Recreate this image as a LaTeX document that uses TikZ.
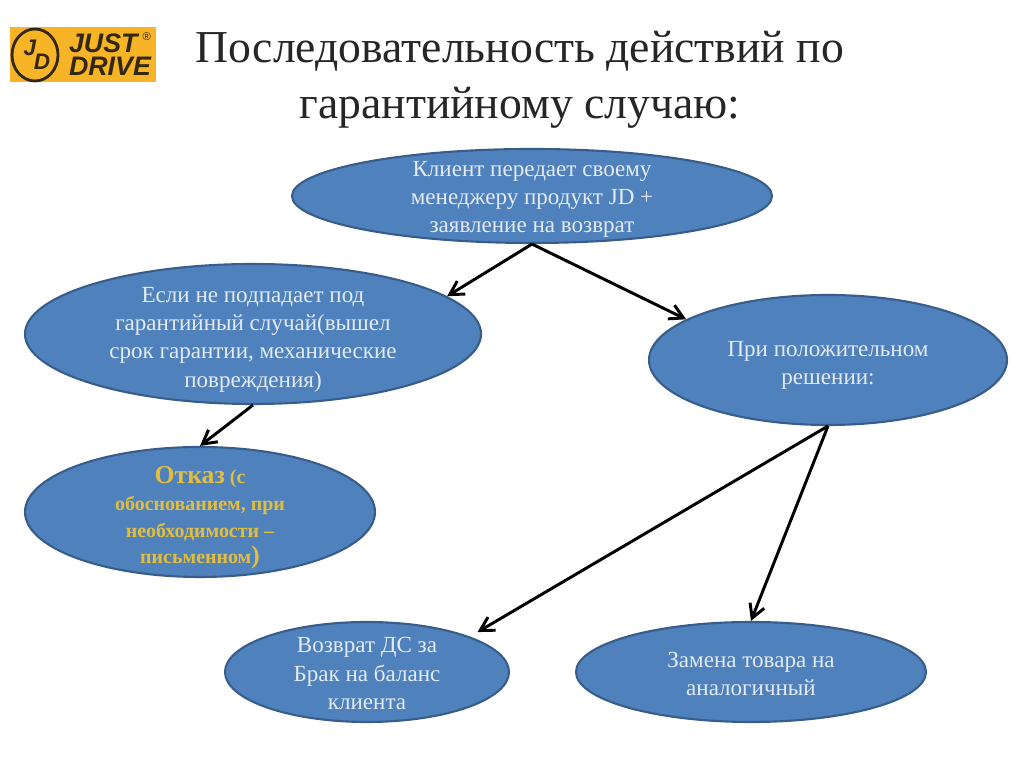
\documentclass[tikz,border=0pt]{standalone}
\usepackage{fontspec}
\setmainfont{Liberation Serif}
\newfontfamily\logofont{Liberation Sans}
\usepackage{xcolor}
\usetikzlibrary{arrows.meta, shapes.geometric}

\definecolor{ovalfill}{HTML}{4F81BD}
\definecolor{ovaledge}{HTML}{385D8A}
\definecolor{ovaltext}{HTML}{E4EAF2}
\definecolor{refusal}{HTML}{E2BE3C}
\definecolor{logoback}{HTML}{F6B426}
\definecolor{logoink}{HTML}{33270F}

% invisible strut on a first line, pushes an oval's text down
\newcommand{\topstrut}[1]{\rule{0pt}{#1}}

\begin{document}
\begin{tikzpicture}[
    oval/.style={ellipse, draw=ovaledge, line width=1.5pt, fill=ovalfill, inner sep=-1.4cm,
      text=ovaltext, align=center, font=\fontsize{16.4}{20}\selectfont},
    logo letter/.style={text=logoink, inner sep=0pt, font=\logofont\bfseries\itshape\fontsize{16}{16}\selectfont},
    logo word/.style={text=logoink, anchor=west, inner sep=0pt, font=\logofont\bfseries\itshape\fontsize{17}{17}\selectfont},
    link/.style={->, line width=2.1pt},
    >={Straight Barb[length=3.4mm, width=3.8mm]}
  ]

  % Page: 1024 x 767 px at 40 px per cm
  \useasboundingbox (0, 0) rectangle (25.6, 19.175);

  % ── Logo ────────────────────────────────────────────────────────────────
  \node[fill=logoback, minimum width=3.65cm, minimum height=1.375cm, inner sep=0pt] (logo) at (2.075, 17.81) {};
  \node[ellipse, draw=logoink, line width=2pt, minimum width=1.15cm, minimum height=1.3cm, inner sep=-0.1cm] (seal) at (0.875, 17.8) {};
  \node[logo letter] (sealj) at (0.75, 17.975) {J};
  \node[logo letter] (seald) at (1.05, 17.625) {D};
  \node[logo word] (just) at (1.72, 18.1) {\scalebox{1.12}[1.12]{JUST}};
  \node[logo word] (drive) at (1.72, 17.52) {\scalebox{1.12}[1.12]{DRIVE}};
  \node[text=logoink, inner sep=0pt, font=\logofont\fontsize{8}{8}\selectfont] (reg) at (3.67, 18.25) {®};

  % ── Title ───────────────────────────────────────────────────────────────
  \node[align=center, text=black!85, font=\fontsize{32.5}{39.5}\selectfont] (title) at (13.0, 17.175)
    {Последовательность действий по\\гарантийному случаю:};

  % ── Ovals ───────────────────────────────────────────────────────────────
  \node[oval, minimum width=12cm, minimum height=2.35cm] (client) at (13.3, 14.275)
    {\topstrut{15.5pt}Клиент передает своему\\менеджеру продукт JD +\\заявление на возврат};
  \node[oval, minimum width=11.4cm, minimum height=3.5cm] (nocase) at (6.325, 10.825)
    {\topstrut{19pt}Если не подпадает под\\гарантийный случай(вышел\\срок гарантии, механические\\повреждения)};
  \node[oval, minimum width=8.95cm, minimum height=3.25cm] (yescase) at (20.7, 10.175)
    {\topstrut{18pt}При положительном\\решении:};
  \node[oval, minimum width=8.75cm, minimum height=3.25cm, text=refusal,
    font=\bfseries\fontsize{14.2}{19}\selectfont] (refuse) at (5.0, 6.375)
    {\topstrut{20.5pt}{\fontsize{18.3}{19}\selectfont Отказ} (с\\обоснованием, при\\необходимости –\\письменном{\fontsize{18}{19}\selectfont )}};
  \node[oval, minimum width=7.1cm, minimum height=2.5cm] (refund) at (9.175, 2.375)
    {\topstrut{13pt}Возврат ДС за\\Брак на баланс\\клиента};
  \node[oval, minimum width=8.75cm, minimum height=2.5cm] (swap) at (18.775, 2.375)
    {\topstrut{14pt}Замена товара на\\аналогичный};

  % ── Links ───────────────────────────────────────────────────────────────
  \draw[link] (client.south) -- (nocase.11);
  \draw[link] (client.south) -- (yescase.164);
  \draw[link] (nocase.south) -- (refuse.north);
  \draw[link, shorten >=0.22cm] (yescase.south) -- (refund.19);
  \draw[link] (yescase.south) -- (swap.north);

\end{tikzpicture}
\end{document}
